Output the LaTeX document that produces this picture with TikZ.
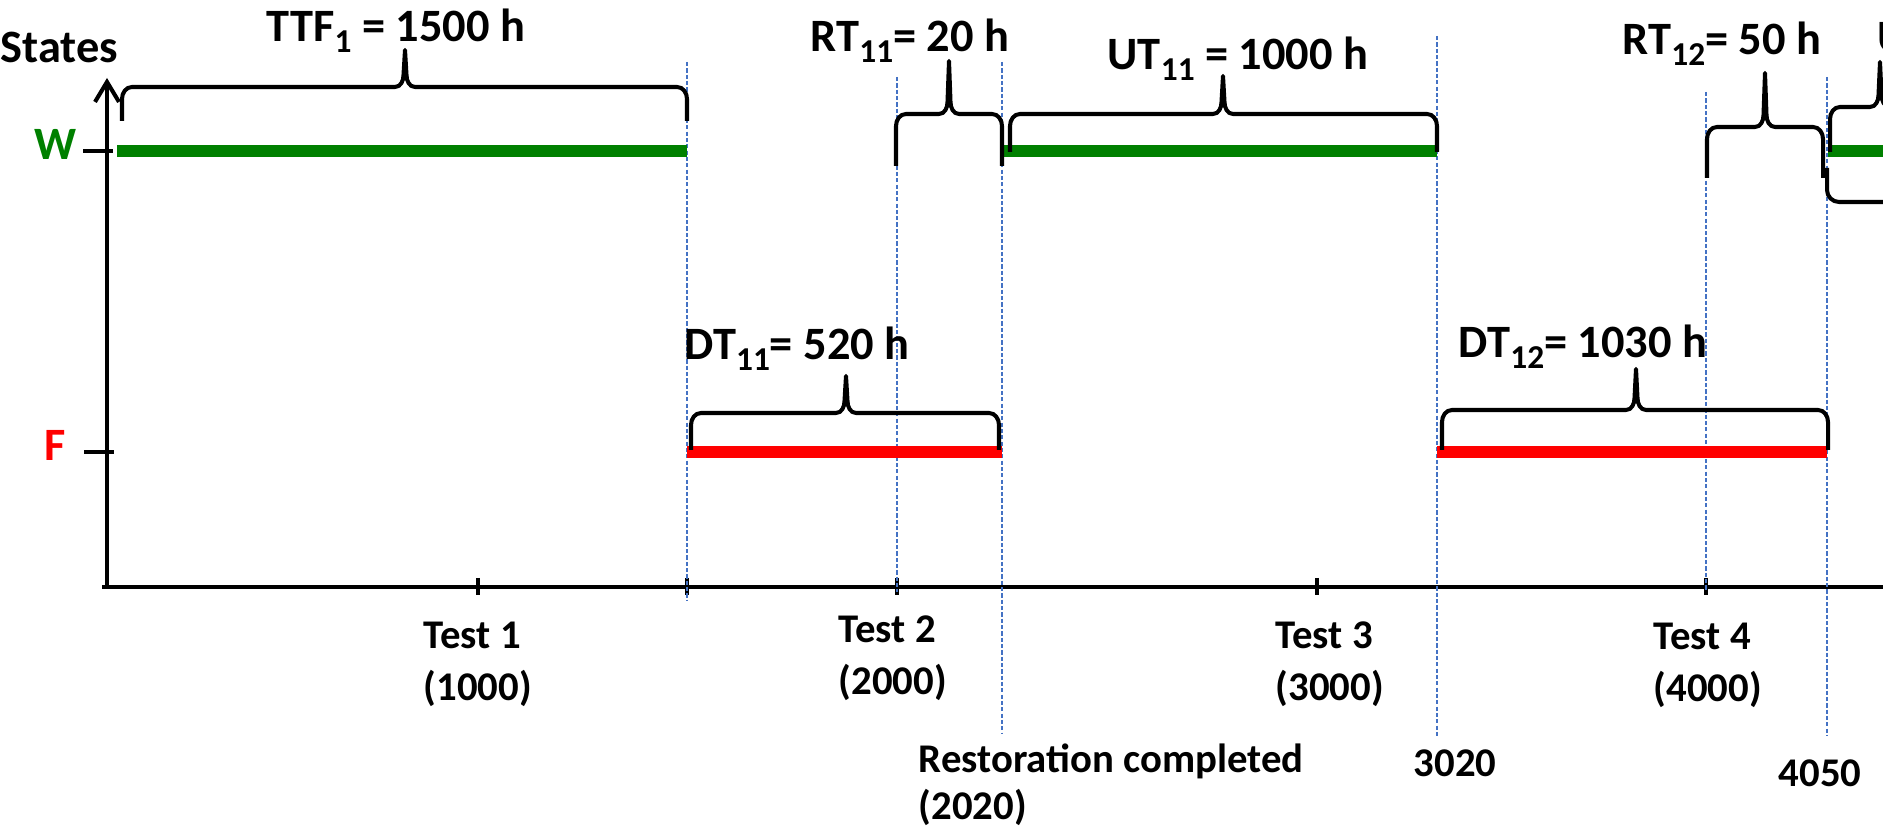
\documentclass[tikz,border=0pt]{standalone}
\usepackage{fontspec}
\setmainfont{Carlito}
\usepackage{tikz}
\usetikzlibrary{arrows.meta}

\definecolor{hijau}{RGB}{0,128,0}
\definecolor{merah}{RGB}{255,0,0}
\definecolor{biru}{RGB}{68,114,196}

% indeks bawah
\newcommand{\indeks}[1]{\raisebox{-3.1pt}{\fontsize{9.5}{10}\selectfont #1}}

% kurung kurawal: #1 kiri, #2 kanan, #3 puncak-x, #4 bawah, #5 atas, #6 puncak-y
\newcommand{\kurungatas}[6]{%
  \draw[kurung] (#1,#4) -- (#1,#5-12) to[out=90,in=180] (#1+10,#5)
    -- (#3-10,#5) to[out=0,in=-90] (#3-1.5,#5+12) -- (#3,#6) -- (#3+1.5,#5+12)
    to[out=-90,in=180] (#3+10,#5) -- (#2-10,#5) to[out=0,in=90] (#2,#5-12) -- (#2,#4);}

\begin{document}
\begin{tikzpicture}[
				x=0.1mm, y=0.1mm,
				sumbu/.style={line width=1.15pt},
				takik/.style={line width=1.4pt},
				kurung/.style={line width=1.15pt, line join=round},
				kerja/.style={hijau, line width=3.2pt},
				gagal/.style={merah, line width=3.2pt},
				penanda/.style={biru, line width=0.6pt, dash pattern=on 1.2pt off 0.6pt},
				judul/.style={inner sep=0pt, font=\fontsize{13.2}{15}\selectfont\bfseries},
				durasi/.style={inner sep=0pt, anchor=base, font=\fontsize{13.2}{15}\selectfont\bfseries},
				waktu/.style={inner sep=0pt, anchor=base west, align=left, font=\fontsize{11.6}{14.8}\selectfont\bfseries}
			]
			\useasboundingbox (0,0) rectangle (1883,-829);

			% Sumbu
			\coordinate (asal) at (107,-589);
			\coordinate (puncaky) at (107,-78);
			\coordinate (kirix) at (102,-587);
			\coordinate (kananx) at (1900,-587);
			\draw[sumbu, -{Straight Barb[length=2mm,width=2.4mm]}] (asal) -- (puncaky);
			\draw[sumbu] (kirix) -- (kananx);
			\draw[takik] (83,-151) -- (113,-151);
			\draw[takik] (84,-452) -- (114,-452);
			\foreach \x in {478,687,897,1317,1706}
				\draw[takik, line width=1.2pt] (\x,-578) -- (\x,-595);

			\node[judul, anchor=base west] (states) at (0,-63) {States};
			\node[judul, anchor=base east, text=hijau] (w) at (77,-160) {W};
			\node[judul, anchor=base east, text=merah] (f) at (66,-461) {F};

			% Garis penanda waktu
			\foreach \x/\a/\b in {687/62/600, 897/77/592, 1002/62/733, 1437/36/737, 1706/92/590, 1827/77/735}
				\draw[penanda] (\x,-\a) -- (\x,-\b);

			% Status W dan F
			\draw[kerja] (117,-151) -- (687,-151);
			\draw[kerja] (1002,-151) -- (1437,-151);
			\draw[kerja] (1828,-151) -- (1900,-151);
			\draw[gagal] (687,-452) -- (1002,-452);
			\draw[gagal] (1437,-452) -- (1827,-452);

			% Kurung kurawal
			\kurungatas{122}{687}{405}{-121}{-87}{-50}
			\kurungatas{896}{1002}{949}{-166}{-114}{-61}
			\kurungatas{1010}{1437}{1223}{-152}{-114}{-76}
			\kurungatas{1707}{1823}{1765}{-178}{-127}{-73}
			\kurungatas{1830}{2000}{1880}{-152}{-107}{-62}
			\kurungatas{691}{999}{846}{-450}{-413}{-376}
			\kurungatas{1442}{1828}{1636}{-450}{-410}{-369}
			\draw[kurung] (1827,-168) -- (1827,-190) to[out=-90,in=180] (1839,-202) -- (1900,-202);

			\node[durasi] (ttf) at (396,-42) {TTF\indeks{1} = 1500 h};
			\node[durasi] (rt11) at (910,-52) {RT\indeks{11}= 20 h};
			\node[durasi] (ut11) at (1238,-70) {UT\indeks{11} = 1000 h};
			\node[durasi] (rt12) at (1722,-55) {RT\indeks{12}= 50 h};
			\node[durasi, anchor=base west] (ut12) at (1877,-53) {U};
			\node[durasi] (dt11) at (797,-360) {DT\indeks{11}= 520 h};
			\node[durasi] (dt12) at (1583,-358) {DT\indeks{12}= 1030 h};

			% Keterangan waktu (base = baris terakhir)
			\node[waktu] (test1) at (423,-701) {Test 1\\(1000)};
			\node[waktu] (test2) at (838,-695) {Test 2\\(2000)};
			\node[waktu] (test3) at (1275,-701) {Test 3\\(3000)};
			\node[waktu] (test4) at (1653,-702) {Test 4\\(4000)};
			\node[waktu, font=\fontsize{11.6}{13.6}\selectfont\bfseries] (pulih) at (918,-820) {Restoration completed\\(2020)};
			\node[waktu, anchor=base] (t3020) at (1455,-777) {3020};
			\node[waktu, anchor=base] (t4050) at (1820,-787) {4050};
		\end{tikzpicture}
\end{document}
